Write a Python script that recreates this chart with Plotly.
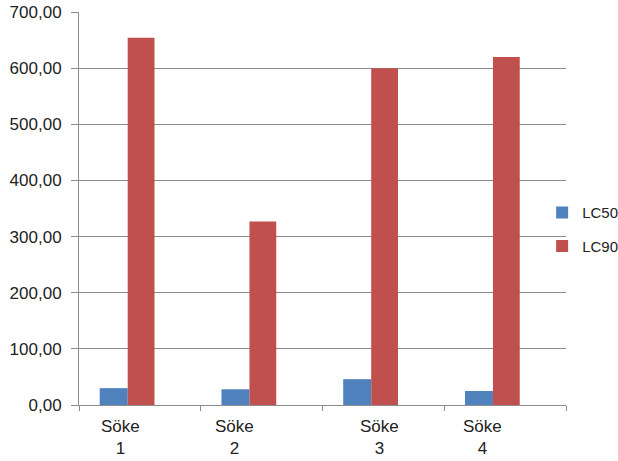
import plotly.graph_objects as go

# Data
sites = ["Söke 1", "Söke 2", "Söke 3", "Söke 4"]
lc50 = [30, 28, 46, 25]
lc90 = [654, 327, 600, 620]
y_ticks = [0, 100, 200, 300, 400, 500, 600, 700]
y_tick_labels = ["0,00", "100,00", "200,00", "300,00", "400,00", "500,00", "600,00", "700,00"]

BLUE = "#4F81BD"
RED = "#C0504D"
GRID = "#8C8C8C"
FONT = "Liberation Sans, Arial, sans-serif"

x = list(range(len(sites)))

fig = go.Figure()
fig.add_trace(go.Bar(x=x, y=lc50, name="LC50", marker=dict(color=BLUE, line=dict(width=0)),
                     width=0.23, offset=-0.33, legendgroup="a"))
fig.add_trace(go.Bar(x=x, y=lc90, name="LC90", marker=dict(color=RED, line=dict(width=0)),
                     width=0.22, offset=-0.10, legendgroup="b"))

# Category labels, wrapped onto two lines
label_shift = [-19, -27, -4, -23]
for i, name in enumerate(sites):
    word, num = name.split(" ")
    fig.add_annotation(x=i, y=0, xref="x", yref="paper", yanchor="top",
                       text=f"{word}<br>{num}", showarrow=False, xshift=label_shift[i],
                       yshift=-10, font=dict(family=FONT, size=17, color="#222222"))

fig.update_layout(
    width=618, height=461,
    margin=dict(l=79, r=52, t=12, b=56, autoexpand=False),
    paper_bgcolor="white", plot_bgcolor="white",
    font=dict(family=FONT, size=17, color="#222222"),
    barmode="overlay",
    legend=dict(x=0.951, xanchor="left", y=0.447, yanchor="middle",
                font=dict(family=FONT, size=15, color="#222222"),
                tracegroupgap=11, traceorder="grouped",
                bgcolor="rgba(0,0,0,0)", itemwidth=30),
    showlegend=True,
)
fig.update_xaxes(range=[-0.5, 3.5], tickvals=[-0.5, 0.5, 1.5, 2.5, 3.5], showticklabels=False,
                 ticks="outside", ticklen=5, tickcolor=GRID, showline=True, linecolor=GRID,
                 linewidth=1, showgrid=False, zeroline=False)
fig.update_yaxes(range=[0, 700], tickvals=y_ticks, ticktext=y_tick_labels,
                 ticks="outside", ticklen=7, tickcolor=GRID, showline=True, linecolor=GRID,
                 linewidth=1, showgrid=True, gridcolor=GRID, gridwidth=1, zeroline=False,
                 ticklabelstandoff=6)

fig.write_html("out.html")
